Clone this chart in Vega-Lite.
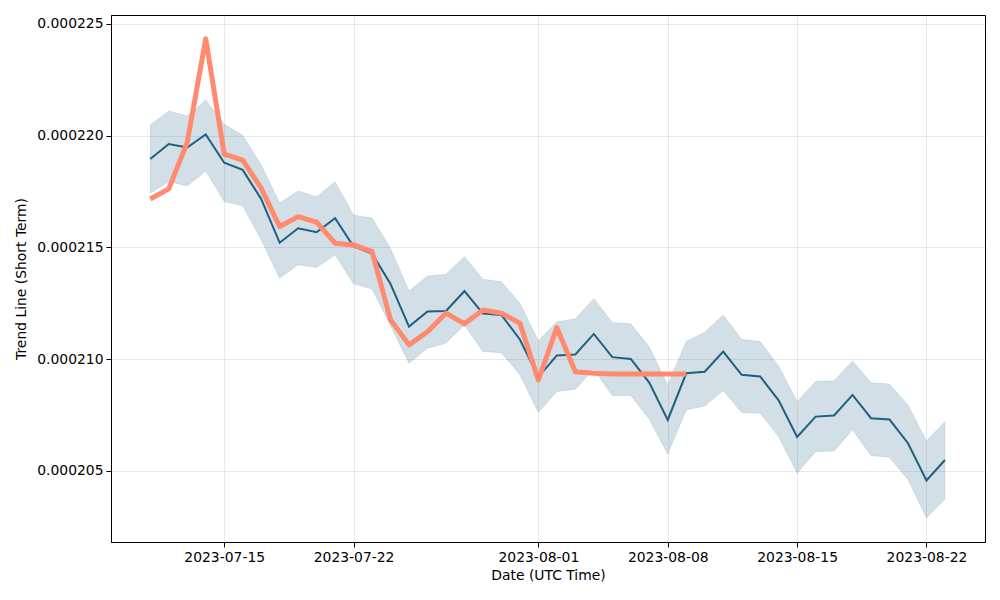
{
  "$schema": "https://vega.github.io/schema/vega-lite/v6.json",
  "width": 874,
  "height": 527,
  "autosize": "none",
  "padding": {"left": 111, "top": 15, "right": 15, "bottom": 58},
  "background": "white",
  "config": {
    "view": {"stroke": "black", "strokeWidth": 1},
    "font": "DejaVu Sans",
    "axis": {
      "labelFont": "DejaVu Sans",
      "titleFont": "DejaVu Sans",
      "labelFontSize": 13.9,
      "titleFontSize": 13.9,
      "titleFontWeight": "normal",
      "labelColor": "black",
      "titleColor": "black",
      "domainColor": "black",
      "tickColor": "black",
      "tickSize": 5,
      "gridColor": "#b0b0b0",
      "gridOpacity": 0.35,
      "gridWidth": 0.8
    }
  },
  "data": {
    "values": [
      {"date": "2023-07-11", "trend": 0.00021896, "upper": 0.00022048, "lower": 0.00021743, "actual": 0.00021717},
      {"date": "2023-07-12", "trend": 0.00021963, "upper": 0.00022111, "lower": 0.00021794, "actual": 0.00021762},
      {"date": "2023-07-13", "trend": 0.00021947, "upper": 0.00022088, "lower": 0.00021775, "actual": 0.00021970},
      {"date": "2023-07-14", "trend": 0.00022006, "upper": 0.00022160, "lower": 0.00021841, "actual": 0.00022434},
      {"date": "2023-07-15", "trend": 0.00021879, "upper": 0.00022051, "lower": 0.00021705, "actual": 0.00021918},
      {"date": "2023-07-16", "trend": 0.00021847, "upper": 0.00022002, "lower": 0.00021686, "actual": 0.00021891},
      {"date": "2023-07-17", "trend": 0.00021717, "upper": 0.00021869, "lower": 0.00021534, "actual": 0.00021765},
      {"date": "2023-07-18", "trend": 0.00021521, "upper": 0.00021699, "lower": 0.00021362, "actual": 0.00021593},
      {"date": "2023-07-19", "trend": 0.00021586, "upper": 0.00021753, "lower": 0.00021422, "actual": 0.00021638},
      {"date": "2023-07-20", "trend": 0.00021568, "upper": 0.00021727, "lower": 0.00021410, "actual": 0.00021613},
      {"date": "2023-07-21", "trend": 0.00021631, "upper": 0.00021794, "lower": 0.00021466, "actual": 0.00021519},
      {"date": "2023-07-22", "trend": 0.00021504, "upper": 0.00021645, "lower": 0.00021337, "actual": 0.00021511},
      {"date": "2023-07-23", "trend": 0.00021473, "upper": 0.00021632, "lower": 0.00021314, "actual": 0.00021482},
      {"date": "2023-07-24", "trend": 0.00021337, "upper": 0.00021496, "lower": 0.00021149, "actual": 0.00021176},
      {"date": "2023-07-25", "trend": 0.00021146, "upper": 0.00021305, "lower": 0.00020982, "actual": 0.00021064},
      {"date": "2023-07-26", "trend": 0.00021213, "upper": 0.00021372, "lower": 0.00021049, "actual": 0.00021123},
      {"date": "2023-07-27", "trend": 0.00021216, "upper": 0.00021380, "lower": 0.00021071, "actual": 0.00021206},
      {"date": "2023-07-28", "trend": 0.00021305, "upper": 0.00021459, "lower": 0.00021153, "actual": 0.00021158},
      {"date": "2023-07-29", "trend": 0.00021204, "upper": 0.00021358, "lower": 0.00021034, "actual": 0.00021220},
      {"date": "2023-07-30", "trend": 0.00021198, "upper": 0.00021347, "lower": 0.00021029, "actual": 0.00021206},
      {"date": "2023-07-31", "trend": 0.00021088, "upper": 0.00021250, "lower": 0.00020930, "actual": 0.00021161},
      {"date": "2023-08-01", "trend": 0.00020921, "upper": 0.00021082, "lower": 0.00020761, "actual": 0.00020907},
      {"date": "2023-08-02", "trend": 0.00021017, "upper": 0.00021167, "lower": 0.00020855, "actual": 0.00021141},
      {"date": "2023-08-03", "trend": 0.00021021, "upper": 0.00021181, "lower": 0.00020866, "actual": 0.00020944},
      {"date": "2023-08-04", "trend": 0.00021113, "upper": 0.00021272, "lower": 0.00020956, "actual": 0.00020937},
      {"date": "2023-08-05", "trend": 0.00021009, "upper": 0.00021164, "lower": 0.00020836, "actual": 0.00020934},
      {"date": "2023-08-06", "trend": 0.00021001, "upper": 0.00021158, "lower": 0.00020837, "actual": 0.00020934},
      {"date": "2023-08-07", "trend": 0.00020895, "upper": 0.00021056, "lower": 0.00020731, "actual": 0.00020934},
      {"date": "2023-08-08", "trend": 0.00020728, "upper": 0.00020885, "lower": 0.00020575, "actual": 0.00020934},
      {"date": "2023-08-09", "trend": 0.00020937, "upper": 0.00021079, "lower": 0.00020773, "actual": 0.00020934},
      {"date": "2023-08-10", "trend": 0.00020944, "upper": 0.00021121, "lower": 0.00020791, "actual": null},
      {"date": "2023-08-11", "trend": 0.00021034, "upper": 0.00021198, "lower": 0.00020859, "actual": null},
      {"date": "2023-08-12", "trend": 0.00020930, "upper": 0.00021089, "lower": 0.00020761, "actual": null},
      {"date": "2023-08-13", "trend": 0.00020923, "upper": 0.00021079, "lower": 0.00020758, "actual": null},
      {"date": "2023-08-14", "trend": 0.00020816, "upper": 0.00020970, "lower": 0.00020653, "actual": null},
      {"date": "2023-08-15", "trend": 0.00020652, "upper": 0.00020810, "lower": 0.00020490, "actual": null},
      {"date": "2023-08-16", "trend": 0.00020743, "upper": 0.00020900, "lower": 0.00020586, "actual": null},
      {"date": "2023-08-17", "trend": 0.00020748, "upper": 0.00020903, "lower": 0.00020589, "actual": null},
      {"date": "2023-08-18", "trend": 0.00020840, "upper": 0.00020992, "lower": 0.00020683, "actual": null},
      {"date": "2023-08-19", "trend": 0.00020736, "upper": 0.00020895, "lower": 0.00020569, "actual": null},
      {"date": "2023-08-20", "trend": 0.00020730, "upper": 0.00020889, "lower": 0.00020560, "actual": null},
      {"date": "2023-08-21", "trend": 0.00020624, "upper": 0.00020795, "lower": 0.00020460, "actual": null},
      {"date": "2023-08-22", "trend": 0.00020457, "upper": 0.00020634, "lower": 0.00020291, "actual": null},
      {"date": "2023-08-23", "trend": 0.00020549, "upper": 0.00020721, "lower": 0.00020373, "actual": null}
    ]
  },
  "encoding": {
    "x": {
      "field": "date",
      "type": "temporal",
      "scale": {
        "type": "utc",
        "domain": ["2023-07-08T21:00:00Z", "2023-08-25T04:00:00Z"]
      },
      "axis": {
        "title": "Date (UTC Time)",
        "labelExpr": "utcFormat(datum.value, '%Y-%m-%d')",
        "values": [
          {"year": 2023, "month": 7, "date": 15, "utc": true},
          {"year": 2023, "month": 7, "date": 22, "utc": true},
          {"year": 2023, "month": 8, "date": 1, "utc": true},
          {"year": 2023, "month": 8, "date": 8, "utc": true},
          {"year": 2023, "month": 8, "date": 15, "utc": true},
          {"year": 2023, "month": 8, "date": 22, "utc": true}
        ],
        "labelPadding": 3,
        "titlePadding": 5,
        "labelFlush": false,
        "labelOverlap": false
      }
    }
  },
  "layer": [
    {
      "mark": {"type": "area", "fill": "#1f5f80", "fillOpacity": 0.2, "stroke": "#1f5f80", "strokeOpacity": 0.12, "strokeWidth": 1},
      "encoding": {
        "y": {
          "field": "upper",
          "type": "quantitative",
          "scale": {"domain": [0.00020182, 0.0002254], "nice": false, "zero": false},
          "axis": {
            "title": "Trend Line (Short Term)",
            "values": [0.000205, 0.00021, 0.000215, 0.00022, 0.000225],
            "format": ".6f",
            "labelPadding": 3,
            "titlePadding": 8
          }
        },
        "y2": {"field": "lower"}
      }
    },
    {
      "mark": {"type": "line", "color": "#1f5f80", "strokeWidth": 2},
      "encoding": {
        "y": {"field": "trend", "type": "quantitative"}
      }
    },
    {
      "transform": [{"filter": "datum.actual != null"}],
      "mark": {"type": "line", "color": "#ff8a70", "strokeWidth": 5, "strokeJoin": "round", "strokeCap": "butt"},
      "encoding": {
        "y": {"field": "actual", "type": "quantitative"}
      }
    }
  ]
}
